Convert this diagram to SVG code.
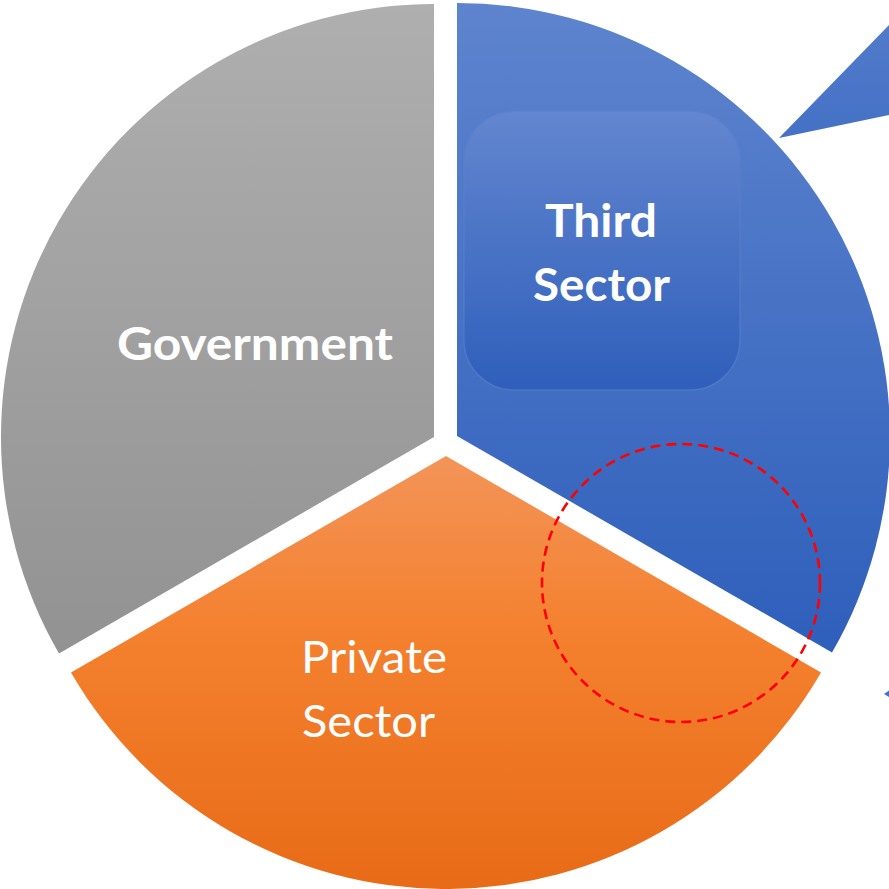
<svg xmlns="http://www.w3.org/2000/svg" width="889" height="889" viewBox="0 0 889 889">
<defs>
<linearGradient id="gGray" gradientUnits="userSpaceOnUse" x1="0" y1="0" x2="0" y2="654">
<stop offset="0" stop-color="#afafaf"/><stop offset="1" stop-color="#929292"/>
</linearGradient>
<linearGradient id="gBlue" gradientUnits="userSpaceOnUse" x1="0" y1="0" x2="0" y2="654">
<stop offset="0" stop-color="#5e84ce"/><stop offset="1" stop-color="#2e5fbb"/>
</linearGradient>
<linearGradient id="gBox" gradientUnits="userSpaceOnUse" x1="0" y1="111" x2="0" y2="390">
<stop offset="0" stop-color="#6386cf"/><stop offset="1" stop-color="#2f5fbb"/>
</linearGradient>
<linearGradient id="gOrange" gradientUnits="userSpaceOnUse" x1="0" y1="456" x2="0" y2="889">
<stop offset="0" stop-color="#f39458"/><stop offset="0.4" stop-color="#f4812f"/><stop offset="1" stop-color="#e86b17"/>
</linearGradient>
<linearGradient id="gTri" gradientUnits="userSpaceOnUse" x1="0" y1="0" x2="0" y2="140">
<stop offset="0" stop-color="#557cca"/><stop offset="1" stop-color="#4471c6"/>
</linearGradient>
<style>
.lb{font-family:Lato,"Open Sans","Liberation Sans",sans-serif;font-weight:bold;font-size:46px;fill:#ffffff}
.lr{font-family:Lato,"Open Sans","Liberation Sans",sans-serif;font-weight:normal;font-size:45px;fill:#ffffff}
</style>
</defs>
<rect width="889" height="889" fill="#ffffff"/>
<g id="government">
<path d="M434,437 L434,4 A433,433 0 0 0 59,653.5 Z" fill="url(#gGray)"/>
<text class="lb" x="255" y="360" text-anchor="middle" textLength="276" lengthAdjust="spacingAndGlyphs">Government</text>
</g>
<g id="third-sector">
<path d="M457,436 L457,3 A433,433 0 0 1 832,652.5 Z" fill="url(#gBlue)"/>
<rect x="464" y="111" width="276" height="279" rx="50" ry="50" fill="url(#gBox)" stroke="#5a80cc" stroke-opacity="0.6" stroke-width="1.5"/>
<text class="lb" x="601" y="237" text-anchor="middle" textLength="112" lengthAdjust="spacingAndGlyphs">Third</text>
<text class="lb" x="601.5" y="301" text-anchor="middle" textLength="137" lengthAdjust="spacingAndGlyphs">Sector</text>
</g>
<g id="private-sector">
<path d="M446,456 L821,672.5 A433,433 0 0 1 71,672.5 Z" fill="url(#gOrange)"/>
<text class="lr" x="301" y="673" textLength="146" lengthAdjust="spacingAndGlyphs">Private</text>
<text class="lr" x="302" y="737" textLength="133" lengthAdjust="spacingAndGlyphs">Sector</text>
</g>
<g id="connectors">
<polygon points="779,138 905,8.6 905,111.6" fill="url(#gTri)"/>
<polygon points="884,694 889,690.5 889,697" fill="#4471c6"/>
<circle cx="681" cy="583" r="139" fill="none" stroke="#ff0000" stroke-width="2.6" stroke-dasharray="10,6"/>
</g>
</svg>
